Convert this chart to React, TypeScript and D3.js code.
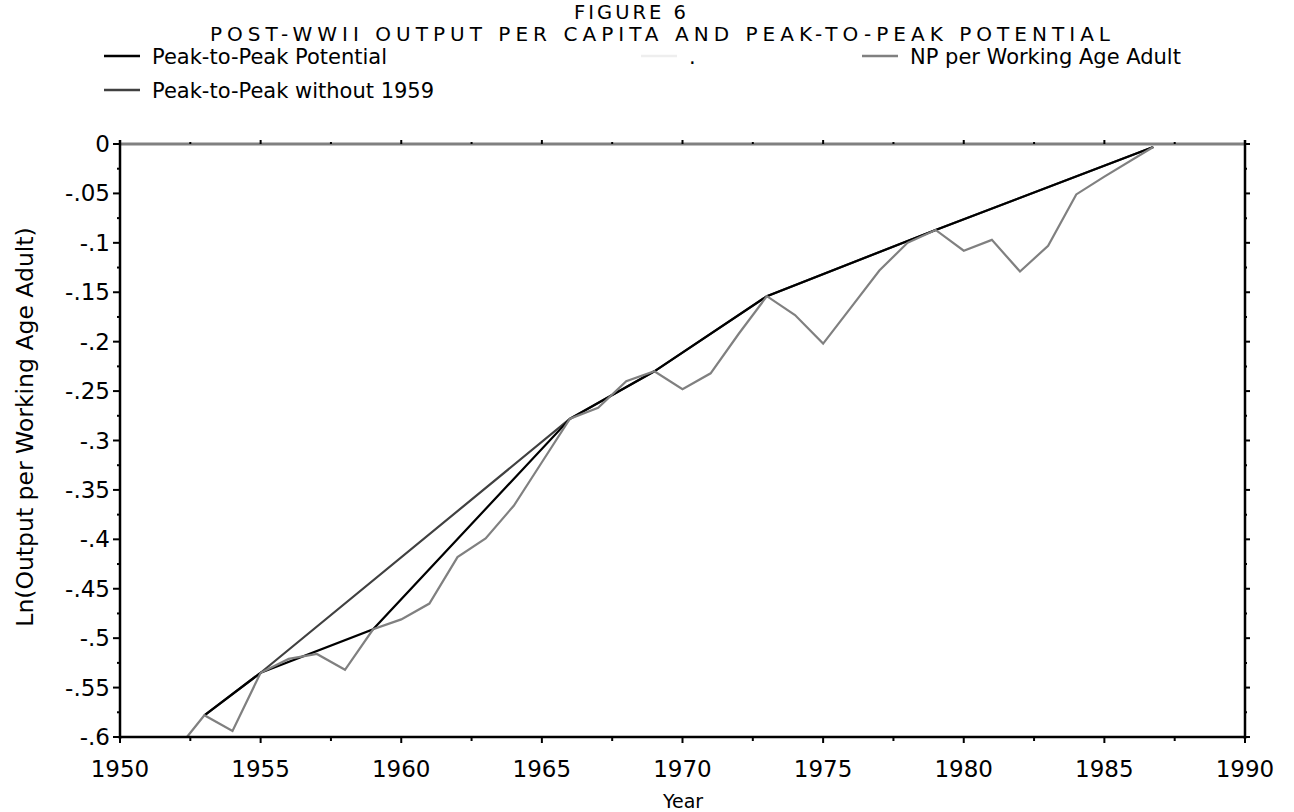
import React from "react";
import * as d3 from "d3";

// NP per working-age adult, log scale (annual, with partial-year endpoints)
const npYears = [1952.38, 1953, 1954, 1955, 1956, 1957, 1958, 1959, 1960, 1961, 1962, 1963, 1964, 1965, 1966, 1967, 1968, 1969, 1970, 1971, 1972, 1973, 1974, 1975, 1976, 1977, 1978, 1979, 1980, 1981, 1982, 1983, 1984, 1985, 1986.74];
const npValues = [-0.600, -0.578, -0.594, -0.535, -0.521, -0.516, -0.532, -0.491, -0.481, -0.465, -0.418, -0.399, -0.366, -0.322, -0.278, -0.267, -0.240, -0.230, -0.248, -0.232, -0.192, -0.154, -0.173, -0.202, -0.165, -0.128, -0.100, -0.087, -0.108, -0.097, -0.129, -0.103, -0.051, -0.033, -0.003];

// Peak-to-peak potential, connecting cyclical peaks
const p2pYears = [1953, 1955, 1959, 1966, 1969, 1973, 1979, 1986.74];
const p2pValues = [-0.578, -0.535, -0.491, -0.278, -0.230, -0.154, -0.087, -0.003];

// Peak-to-peak potential skipping the 1959 peak
const p2pNo59Years = [1953, 1955, 1966, 1969, 1973, 1979, 1986.74];
const p2pNo59Values = [-0.578, -0.535, -0.278, -0.230, -0.154, -0.087, -0.003];

// Zero reference line
const zeroYears = [1950, 1990];
const zeroValues = [0, 0];

const xTicks = [1950, 1955, 1960, 1965, 1970, 1975, 1980, 1985, 1990];
const xMinorTicks = [1952.5, 1957.5, 1962.5, 1967.5, 1972.5, 1977.5, 1982.5, 1987.5];
const yTicks = [0, -0.05, -0.1, -0.15, -0.2, -0.25, -0.3, -0.35, -0.4, -0.45, -0.5, -0.55, -0.6];
const yTickLabels = ["0", "-.05", "-.1", "-.15", "-.2", "-.25", "-.3", "-.35", "-.4", "-.45", "-.5", "-.55", "-.6"];
const yMinorTicks = [-0.025, -0.075, -0.125, -0.175, -0.225, -0.275, -0.325, -0.375, -0.425, -0.475, -0.525, -0.575];

const titleLines = ["FIGURE 6", "POST-WWII OUTPUT PER CAPITA AND PEAK-TO-PEAK POTENTIAL"];

const W = 1294;
const H = 812;
const left = 120;
const right = 1245;
const top = 144;
const bottom = 737;

const FONT = "'DejaVu Sans', Verdana, sans-serif";

export default function App() {
  const x = d3.scaleLinear().domain([1950, 1990]).range([left, right]);
  const y = d3.scaleLinear().domain([-0.6, 0]).range([bottom, top]);

  const path = (xs: number[], ys: number[]) =>
    d3.line<number>().x((_, i) => x(xs[i])).y((_, i) => y(ys[i]))(xs.map((_, i) => i)) || "";

  const legendItems = [
    { label: "Peak-to-Peak Potential", color: "#000000", x: 104, y: 56 },
    { label: ".", color: "#eeeeee", x: 641, y: 56 },
    { label: "NP per Working Age Adult", color: "#808080", x: 862, y: 56 },
    { label: "Peak-to-Peak without 1959", color: "#404040", x: 104, y: 90 },
  ];

  return (
    <svg width={W} height={H} style={{ position: "absolute", left: 0, top: 0, background: "#fff" }}>
      <rect width={W} height={H} fill="#fff" />
      {/* titles */}
      <text x={630} y={19} textAnchor="middle" fontFamily={FONT} fontSize={19.5} fill="#000"
        textLength={112} lengthAdjust="spacing">
        {titleLines[0]}
      </text>
      <text x={660} y={41} textAnchor="middle" fontFamily={FONT} fontSize={20} fill="#000"
        textLength={900} lengthAdjust="spacing">
        {titleLines[1]}
      </text>

      {/* legend */}
      {legendItems.map((d) => (
        <g key={d.label}>
          <line x1={d.x} x2={d.x + 36} y1={d.y} y2={d.y} stroke={d.color} strokeWidth={2.5} />
          <text x={d.x + 48} y={d.y + 8} fontFamily={FONT} fontSize={21} fill="#000">
            {d.label}
          </text>
        </g>
      ))}

      {/* series */}
      <path d={path(p2pNo59Years, p2pNo59Values)} fill="none" stroke="#404040" strokeWidth={2.2} />
      <path d={path(p2pYears, p2pValues)} fill="none" stroke="#000" strokeWidth={2.2} />
      <path d={path(npYears, npValues)} fill="none" stroke="#808080" strokeWidth={2.2} />
      <path d={path(zeroYears, zeroValues)} fill="none" stroke="#808080" strokeWidth={3} />

      {/* left axis */}
      <line x1={left} x2={left} y1={top - 4} y2={bottom + 2} stroke="#000" strokeWidth={2.5} />
      {yTicks.map((t, i) => (
        <g key={"yl" + t}>
          <line x1={left - 7} x2={left} y1={y(t)} y2={y(t)} stroke="#000" strokeWidth={2} />
          <text x={left - 10} y={y(t) + 8} textAnchor="end" fontFamily={FONT} fontSize={23} fill="#000">
            {yTickLabels[i]}
          </text>
        </g>
      ))}
      {yMinorTicks.map((t) => (
        <line key={"ym" + t} x1={left - 3} x2={left} y1={y(t)} y2={y(t)} stroke="#000" strokeWidth={2} />
      ))}

      {/* right axis */}
      <line x1={right} x2={right} y1={top - 4} y2={bottom + 2} stroke="#000" strokeWidth={2.5} />
      {yTicks.map((t) => (
        <line key={"yr" + t} x1={right} x2={right + 5} y1={y(t)} y2={y(t)} stroke="#000" strokeWidth={2} />
      ))}
      {yMinorTicks.map((t) => (
        <line key={"yrm" + t} x1={right} x2={right + 2} y1={y(t)} y2={y(t)} stroke="#000" strokeWidth={2} />
      ))}

      {/* bottom axis */}
      <line x1={left - 1} x2={right + 1} y1={bottom} y2={bottom} stroke="#000" strokeWidth={2.5} />
      {xTicks.map((t) => (
        <g key={"xb" + t}>
          <line x1={x(t)} x2={x(t)} y1={bottom} y2={bottom + 6} stroke="#000" strokeWidth={2} />
          <text x={x(t)} y={bottom + 40} textAnchor="middle" fontFamily={FONT} fontSize={23} fill="#000">
            {t}
          </text>
        </g>
      ))}
      {xMinorTicks.map((t) => (
        <line key={"xbm" + t} x1={x(t)} x2={x(t)} y1={bottom} y2={bottom + 4} stroke="#000" strokeWidth={2} />
      ))}

      {/* top axis ticks */}
      {xTicks.map((t) => (
        <line key={"xt" + t} x1={x(t)} x2={x(t)} y1={top} y2={top - 4} stroke="#000" strokeWidth={2} />
      ))}
      {xMinorTicks.map((t) => (
        <line key={"xtm" + t} x1={x(t)} x2={x(t)} y1={top} y2={top - 2} stroke="#000" strokeWidth={2} />
      ))}

      {/* axis titles */}
      <text x={683} y={H - 4} textAnchor="middle" fontFamily={FONT} fontSize={19} fill="#000">
        Year
      </text>
      <text
        transform={`translate(33, 427) rotate(-90)`}
        textAnchor="middle"
        fontFamily={FONT}
        fontSize={23.5}
        fill="#000"
      >
        Ln(Output per Working Age Adult)
      </text>
    </svg>
  );
}
